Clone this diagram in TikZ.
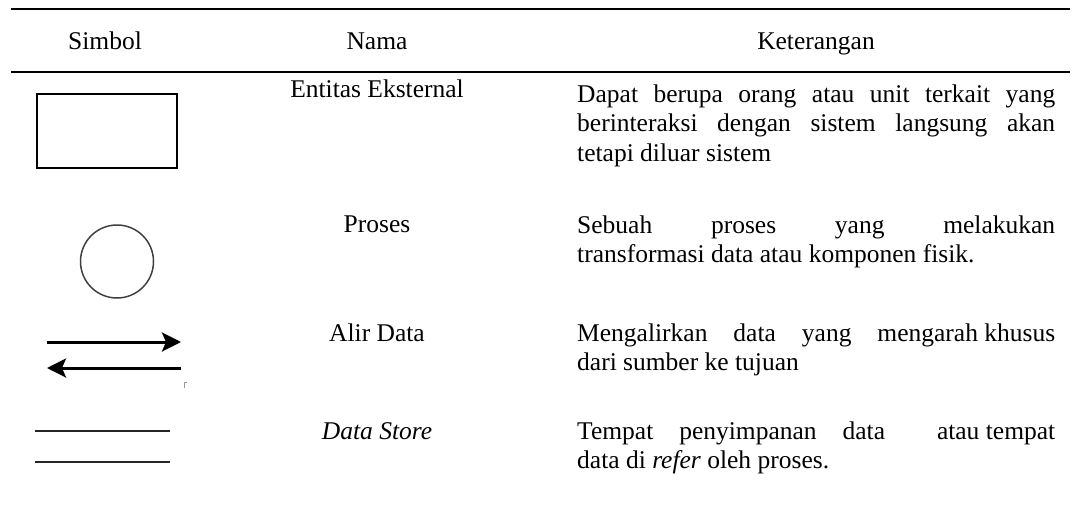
\documentclass[tikz,border=0pt]{standalone}
\usepackage{fontspec}
\setmainfont{Liberation Serif}
\usetikzlibrary{arrows.meta}

\newcommand{\jl}[1]{\makebox[\linewidth][s]{#1}}

\begin{document}
\begin{tikzpicture}[x=1pt, y=-1pt]
        \tikzstyle{hdr}=[anchor=base, inner sep=0pt, font=\fontsize{25.5}{29}\selectfont]
        \tikzstyle{desc}=[anchor=base west, inner sep=0pt, font=\fontsize{25.5}{29.5}\selectfont]
        \tikzstyle{flow}=[line width=3pt, -{Stealth[length=19pt, width=19pt, inset=4pt]}]
        \useasboundingbox (0,0) rectangle (1078,506);

        % rules of the table
        \draw[line width=2.2pt] (11,9) -- (1070,9);
        \draw[line width=2.2pt] (11,72) -- (1070,72);

        \node (hsym) [hdr] at (105,49) {Simbol};
        \node (hname) [hdr] at (377,49) {Nama};
        \node (hdesc) [hdr] at (816,49) {Keterangan};

        % symbols
        \draw[line width=2pt] (37,94) rectangle (177,168);
        \draw[line width=1.5pt, black!75] (117,261.5) circle (36.5pt);
        \coordinate (f1s) at (47,342);
        \coordinate (f1e) at (181,342);
        \coordinate (f2s) at (181,368);
        \coordinate (f2e) at (47,368);
        \draw[flow] (f1s) -- (f1e);
        \draw[flow] (f2s) -- (f2e);
        \draw[black!40, line width=0.8pt] (184,388) -- (184,382) -- (187,382);
        \coordinate (ds1) at (35,431);
        \coordinate (ds2) at (170,431);
        \coordinate (ds3) at (35,462);
        \coordinate (ds4) at (170,462);
        \draw[line width=2pt, black!85] (ds1) -- (ds2);
        \draw[line width=2pt, black!85] (ds3) -- (ds4);

        % names
        \node (nent) [hdr] at (377,97) {Entitas Eksternal};
        \node (nproc) [hdr] at (377,232) {Proses};
        \node (nflow) [hdr] at (377,341) {Alir Data};
        \node (nstore) [hdr] at (377,439) {\itshape Data Store};

        % descriptions
        \node (dent) [desc] at (577,102) {\parbox[t]{478pt}{%
            \jl{Dapat berupa orang atau unit terkait yang}\\
            \jl{berinteraksi dengan sistem langsung akan}\\
            tetapi diluar sistem}};
        \node (dproc) [desc] at (577,233) {\parbox[t]{478pt}{%
            \jl{Sebuah\hfill proses\hfill yang\hfill melakukan}\\
            transformasi data atau komponen fisik.}};
        \node (dflow) [desc] at (577,341) {\parbox[t]{478pt}{%
            \jl{Mengalirkan\hfill data\hfill yang\hfill mengarah khusus}\\
            dari sumber ke tujuan}};
        \node (dstore) [desc] at (577,439) {\parbox[t]{478pt}{%
            \jl{Tempat\hfill penyimpanan\hfill data\hfill\hfill atau tempat}\\
            data di \textit{refer} oleh proses.}};
\end{tikzpicture}
\end{document}
